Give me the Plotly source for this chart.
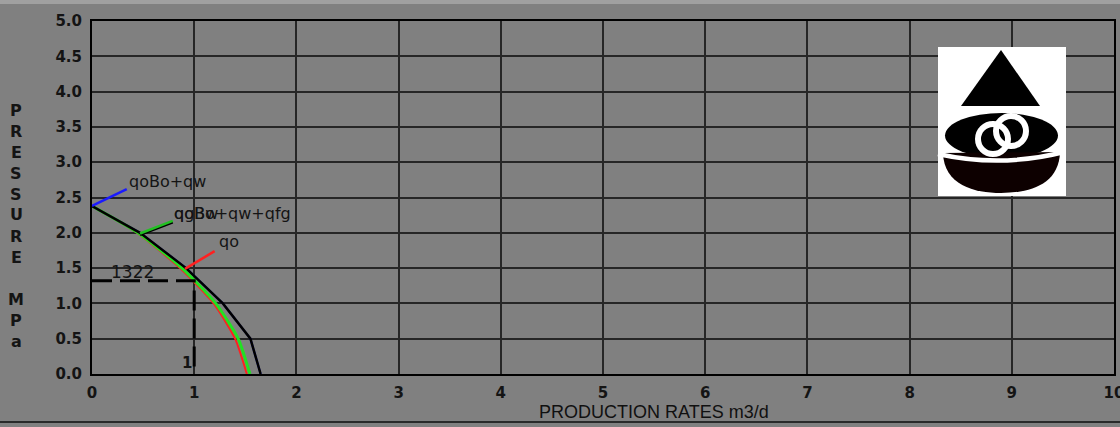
import plotly.graph_objects as go

# Inflow performance data: flow rate (m3/d) at each flowing pressure (MPa)
pressure = [2.38, 2.0, 1.5, 1.0, 0.5, 0.0]
q_total = [0.0, 0.47, 0.92, 1.28, 1.55, 1.65]       # black curve
q_liquid = [0.0, 0.45, 0.88, 1.21, 1.43, 1.545]     # green curve
q_oil = [0.0, 0.44, 0.86, 1.19, 1.40, 1.515]        # red curve
q_blue = [0.0, 0.47, 0.92, 1.28, 1.55, 1.65]        # blue curve (under black)

# Operating point
op_pressure = 1.322
op_rate = 1.0
op_pressure_label = "1322"
op_rate_label = "1"

x_ticks = list(range(0, 11))
y_ticks = [0.0, 0.5, 1.0, 1.5, 2.0, 2.5, 3.0, 3.5, 4.0, 4.5, 5.0]

W, H = 1120, 427
ML, MR, MT, MB = 92, 6, 21, 53
PW, PH = W - ML - MR, H - MT - MB

BG = "#808080"
INK = "#141414"
GRID = "#262626"


def px(x):
    return (x - ML) / PW


def py(y):
    return (H - MB - y) / PH


fig = go.Figure()

fig.add_trace(go.Scatter(x=q_blue, y=pressure, mode="lines",
                         line=dict(color="#1a1aff", width=2), hoverinfo="skip"))
fig.add_trace(go.Scatter(x=q_oil, y=pressure, mode="lines",
                         line=dict(color="#ff2020", width=2, shape="spline", smoothing=0.6),
                         hoverinfo="skip"))
fig.add_trace(go.Scatter(x=q_liquid, y=pressure, mode="lines",
                         line=dict(color="#22e022", width=3, shape="spline", smoothing=0.6),
                         hoverinfo="skip"))
fig.add_trace(go.Scatter(x=q_total, y=pressure, mode="lines",
                         line=dict(color="#000000", width=2.5), hoverinfo="skip"))

# Operating point guide lines
fig.add_trace(go.Scatter(x=[0, op_rate, op_rate], y=[op_pressure, op_pressure, 0],
                         mode="lines", line=dict(color="#000000", width=3, dash="20px,8px"),
                         hoverinfo="skip"))

# Curve label leaders
leaders = [
    ((0.0, 2.38), (0.34, 2.62), "#1a1aff"),
    ((0.47, 1.97), (0.79, 2.15), "#000000"),
    ((0.47, 1.99), (0.79, 2.17), "#22c022"),
    ((0.91, 1.49), (1.20, 1.74), "#ff2020"),
]
for (x0, y0), (x1, y1), c in leaders:
    fig.add_shape(type="line", xref="x", yref="y", x0=x0, y0=y0, x1=x1, y1=y1,
                  line=dict(color=c, width=2.5))

label_font = dict(family="DejaVu Sans", size=16, color=INK)
curve_labels = [
    (0.34, 2.73, "qoBo+qw"),
    (0.78, 2.28, "qoBo+qw+qfg"),
    (0.78, 2.28, "qgBw"),
    (1.22, 1.88, "qo"),
]
for x, y, t in curve_labels:
    fig.add_annotation(x=x, y=y, text=t, showarrow=False, xanchor="left",
                       yanchor="middle", font=label_font)

fig.add_annotation(x=0.40, y=1.44, text=op_pressure_label, showarrow=False,
                   font=dict(family="DejaVu Sans", size=17, color=INK))
fig.add_annotation(x=0.93, y=0.16, text=op_rate_label, showarrow=False,
                   font=dict(family="DejaVu Sans", size=15, color=INK, weight="bold"))

# Vertical axis title, one letter per line
title_letters = ["P", "R", "E", "S", "S", "U", "R", "E", "", "M", "P", "a"]
for i, ch in enumerate(title_letters):
    if ch:
        fig.add_annotation(xref="paper", yref="paper", x=px(16), y=py(110 + 21 * i),
                           text=ch, showarrow=False, xanchor="center", yanchor="middle",
                           font=dict(family="DejaVu Sans", size=16, color=INK, weight="bold"))

# Horizontal axis title
fig.add_annotation(xref="paper", yref="paper", x=px(654), y=py(412),
                   text="PRODUCTION RATES m3/d", showarrow=False,
                   xanchor="center", yanchor="middle",
                   font=dict(family="Liberation Sans", size=18, color="#101010"))

# Company emblem (white card with drop and linked rings)
shapes = [
    dict(type="rect", x0=938, y0=47, x1=1066, y1=196, fill="#ffffff", line=None),
    dict(type="path", path="M 961 106 L 1001 50 L 1040 106 Z", fill="#000000", line=None),
    dict(type="circle", x0=945, y0=113, x1=1058, y1=158, fill="#000000", line=None),
    dict(type="path",
         path="M 943 153 C 944 185 974 193 1001 193 C 1029 193 1059 185 1060 152 Z",
         fill="#0d0000", line=None),
    dict(type="path", path="M 938 154 Q 1001 168 1064 152", fill=None,
         line=dict(color="#ffffff", width=4.5)),
    dict(type="circle", x0=978, y0=124, x1=1008, y1=154, fill=None,
         line=dict(color="#ffffff", width=6)),
    dict(type="circle", x0=996, y0=116, x1=1026, y1=146, fill=None,
         line=dict(color="#ffffff", width=6)),
]


def to_paper_path(path):
    out = []
    toks = path.split()
    i = 0
    while i < len(toks):
        t = toks[i]
        if t.isalpha():
            out.append(t)
            i += 1
        else:
            out.append(f"{px(float(toks[i])):.5f},{py(float(toks[i + 1])):.5f}")
            i += 2
    return " ".join(out)


for s in shapes:
    d = dict(xref="paper", yref="paper", layer="above")
    if s["type"] == "path":
        d.update(type="path", path=to_paper_path(s["path"]))
    else:
        d.update(type=s["type"], x0=px(s["x0"]), x1=px(s["x1"]),
                 y0=py(s["y1"]), y1=py(s["y0"]))
    if s.get("fill"):
        d["fillcolor"] = s["fill"]
    if s.get("line"):
        d["line"] = s["line"]
    else:
        d["line"] = dict(width=0)
    fig.add_shape(**d)

# Frame edges of the window
fig.add_shape(type="rect", xref="paper", yref="paper", x0=px(0), x1=px(W),
              y0=py(4), y1=py(0), fillcolor="#a0a0a0", line=dict(width=0))
fig.add_shape(type="line", xref="paper", yref="paper", x0=px(0), x1=px(W),
              y0=py(422), y1=py(422), line=dict(color="#2a2a2a", width=2))

tick_font = dict(family="DejaVu Sans", size=15, color=INK, weight="bold")
fig.update_xaxes(range=[0, 10], tickvals=x_ticks, ticktext=[str(v) for v in x_ticks],
                 showgrid=True, gridcolor=GRID, gridwidth=2, zeroline=False,
                 showline=True, linecolor="#000000", linewidth=2, mirror=True,
                 ticks="", tickfont=tick_font, ticklabelstandoff=4,
                 ticklabeloverflow="allow", automargin=False)
fig.update_yaxes(range=[0, 5], tickvals=y_ticks, ticktext=[f"{v:.1f}" for v in y_ticks],
                 showgrid=True, gridcolor=GRID, gridwidth=2, zeroline=False,
                 showline=True, linecolor="#000000", linewidth=2, mirror=True,
                 ticks="", tickfont=tick_font, ticklabelstandoff=5, automargin=False)

fig.update_layout(width=W, height=H, margin=dict(l=ML, r=MR, t=MT, b=MB, autoexpand=False),
                  paper_bgcolor=BG, plot_bgcolor=BG, showlegend=False)

fig.write_html("out.html")
